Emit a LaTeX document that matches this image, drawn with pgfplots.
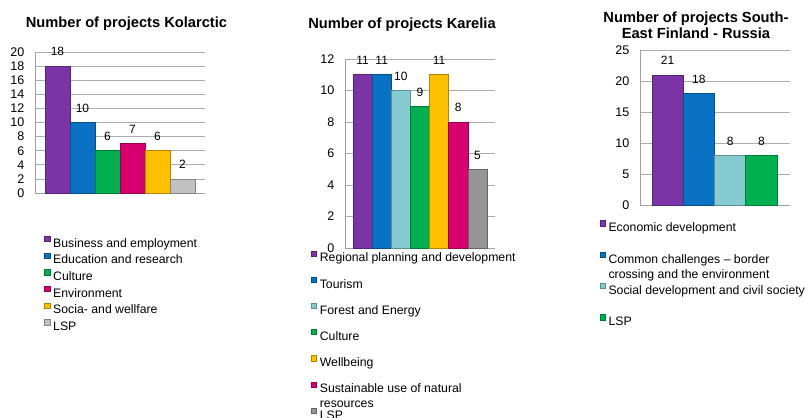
\documentclass[border=0pt]{standalone}
\usepackage{fontspec}
\setmainfont{Liberation Sans}
\usepackage{pgfplots}
\pgfplotsset{compat=1.18}
\definecolor{cPur}{HTML}{7A34A6}
\definecolor{cBlu}{HTML}{0A72C4}
\definecolor{cTea}{HTML}{86CBD2}
\definecolor{cGre}{HTML}{00B050}
\definecolor{cMag}{HTML}{D6006E}
\definecolor{cYel}{HTML}{FFC000}
\definecolor{cGry}{HTML}{A6A6A6}
\pgfplotsset{
  projbase/.style={
    scale only axis,
    ybar, bar width=1, bar shift=0pt,
    ymin=0,
    clip=false,
    axis x line*=bottom, axis y line*=left,
    axis line style={-, draw=gray!75, line width=0.6pt},
    xtick=\empty,
    major tick length=0pt,
    ymajorgrids,
    grid style={gray!65, line width=0.6pt},
    /pgf/number format/assume math mode=true,
    yticklabel style={font=\fontsize{9.4}{11}\selectfont, xshift=-4.5pt},
    nodes near coords,
    nodes near coords style={font=\fontsize{9}{11}\selectfont, text=black, yshift=4pt},
    every axis title shift=0pt,
    title style={font=\bfseries\fontsize{11}{11.7}\selectfont, align=center, anchor=center},
    legend cell align=left,
    legend image code/.code={\draw[#1, line width=0.4pt] (0pt,1.8pt) rectangle (4pt,5.8pt); \path[draw=none, fill=none] (0pt,3pt) -- (6.5pt,3pt);},
    legend style={anchor=north west, draw=none, fill=none, inner sep=0pt,
      font=\fontsize{9.2}{11}\selectfont,
      nodes={inner sep=0pt, text height=7pt, text depth=2pt}},
  }
}
\begin{document}
\begin{tikzpicture}
\path[use as bounding box] (0,0) rectangle (608.25pt,-313.5pt);
% Kolarctic
\begin{axis}[projbase,
  at={(35*0.75pt,-193*0.75pt)}, anchor=south west,
  width=127.5pt, height=105.75pt,
  xmin=-0.9, xmax=5.9, ymax=20, ytick={0,2,...,20},
  title={Number of projects Kolarctic},
  title style={at={(0.538,1.204)}},
  legend style={at={(0.053,-0.302)}, row sep=2pt},
]
\addplot[fill=cPur, draw=cPur!70!black] coordinates {(0,18)};
\addlegendentry{Business and employment}
\addplot[fill=cBlu, draw=cBlu!70!black] coordinates {(1,10)};
\addlegendentry{Education and research}
\addplot[fill=cGre, draw=cGre!70!black] coordinates {(2,6)};
\addlegendentry{Culture}
\addplot[fill=cMag, draw=cMag!70!black] coordinates {(3,7)};
\addlegendentry{Environment}
\addplot[fill=cYel, draw=cYel!70!black] coordinates {(4,6)};
\addlegendentry{Socia- and wellfare}
\addplot[fill=cGry!70, draw=cGry!80!black] coordinates {(5,2)};
\addlegendentry{LSP}
\end{axis}
% Karelia
\begin{axis}[projbase,
  at={(345*0.75pt,-248*0.75pt)}, anchor=south west,
  width=112.5pt, height=141.75pt,
  xmin=-0.918, xmax=6.918, ymax=12, ytick={0,2,...,12},
  title={Number of projects Karelia},
  title style={at={(0.38,1.184)}},
  legend style={at={(-0.229,-0.012)}, row sep=9.15pt},
]
\addplot[fill=cPur, draw=cPur!70!black] coordinates {(0,11)};
\addlegendentry{Regional planning and development}
\addplot[fill=cBlu, draw=cBlu!70!black] coordinates {(1,11)};
\addlegendentry{Tourism}
\addplot[fill=cTea, draw=cTea!70!black] coordinates {(2,10)};
\addlegendentry{Forest and Energy}
\addplot[fill=cGre, draw=cGre!70!black] coordinates {(3,9)};
\addlegendentry{Culture}
\addplot[fill=cYel, draw=cYel!70!black] coordinates {(4,11)};
\addlegendentry{Wellbeing}
\addplot[fill=cMag, draw=cMag!70!black] coordinates {(5,8)};
\addlegendentry{\parbox[t]{150pt}{\baselineskip=11pt Sustainable use of natural\\resources}}
\addplot[fill=cGry!90!black, draw=cGry!60!black] coordinates {(6,5)};
\addlegendentry{LSP}
\end{axis}
% South-East Finland - Russia
\begin{axis}[projbase,
  at={(640*0.75pt,-205*0.75pt)}, anchor=south west,
  width=112.5pt, height=116.25pt,
  xmin=-0.884, xmax=3.916, ymax=25, ytick={0,5,...,25},
  title={Number of projects South-\\East Finland - Russia},
  title style={at={(0.373,1.159)}},
  legend style={at={(-0.271,-0.098)}, row sep=13pt},
]
\addplot[fill=cPur, draw=cPur!70!black] coordinates {(0,21)};
\addlegendentry{Economic development}
\addplot[fill=cBlu, draw=cBlu!70!black] coordinates {(1,18)};
\addlegendentry{\parbox[t]{150pt}{\baselineskip=11.5pt Common challenges – border\\crossing and the environment}}
\addplot[fill=cTea, draw=cTea!70!black] coordinates {(2,8)};
\addlegendentry{Social development and civil society}
\addplot[fill=cGre, draw=cGre!70!black] coordinates {(3,8)};
\addlegendentry{LSP}
\end{axis}
\end{tikzpicture}
\end{document}
